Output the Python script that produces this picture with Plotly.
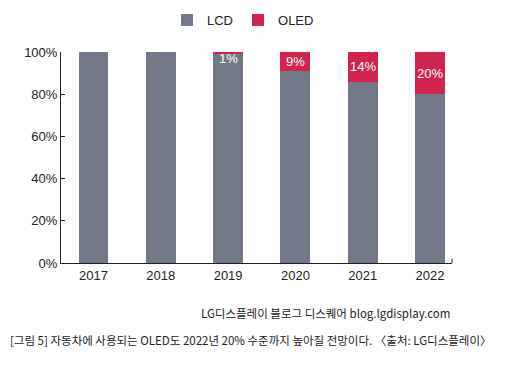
import plotly.graph_objects as go

years = ["2017", "2018", "2019", "2020", "2021", "2022"]
oled = [0, 0, 1, 9, 14, 20]
lcd = [100 - v for v in oled]
y_ticks = [0, 20, 40, 60, 80, 100]
y_tick_labels = ["0%", "20%", "40%", "60%", "80%", "100%"]
source_text = "LG디스플레이 블로그 디스퀘어 blog.lgdisplay.com"
caption_text = "[그림 5] 자동차에 사용되는 OLED도 2022년 20% 수준까지 높아질 전망이다. 〈출처: LG디스플레이〉"

GRAY = "#737889"
RED = "#D0234E"
FONT = "Liberation Sans, Arial, Noto Sans CJK KR, sans-serif"
KFONT = "Noto Sans CJK KR, Liberation Sans, sans-serif"

# page body has an 8px margin; lay out in page pixels minus that offset
OFF = 8
W, H = 515 - OFF, 373 - OFF
L, R, T, B = 61 - OFF, 452 - OFF, 52 - OFF, 263 - OFF
PW, PH = R - L, B - T


def px(x):
    return (x - OFF - L) / PW


def py(y):
    return (B - (y - OFF)) / PH


x_idx = list(range(len(years)))

fig = go.Figure()
fig.add_trace(go.Bar(x=x_idx, y=lcd, name="LCD", marker=dict(color=GRAY, line=dict(width=0)),
                     width=0.445, hoverinfo="skip"))
fig.add_trace(go.Bar(x=x_idx, y=oled, name="OLED", marker=dict(color=RED, line=dict(width=0)),
                     width=0.445, hoverinfo="skip"))

for i, v in enumerate(oled):
    if v > 0:
        fig.add_annotation(x=i, y=100 - max(v, 6.6) / 2, text=f"{v}%", showarrow=False,
                           font=dict(color="white", size=13, family=FONT),
                           xanchor="center", yanchor="middle")

fig.add_annotation(x=px(325), y=py(313), xref="paper", yref="paper", text=source_text, showarrow=False,
                   font=dict(size=11.5, color="#222", family=KFONT), xanchor="center", yanchor="middle")
fig.add_annotation(x=px(8), y=py(340), xref="paper", yref="paper", text=caption_text, showarrow=False,
                   font=dict(size=11.5, color="#222", family=KFONT), xanchor="left", yanchor="middle")

fig.update_layout(
    width=W, height=H,
    margin=dict(l=L, r=W - R, t=T, b=H - B, autoexpand=False),
    barmode="stack",
    plot_bgcolor="white", paper_bgcolor="white",
    font=dict(family=FONT, size=13, color="#222"),
    showlegend=True,
    legend=dict(orientation="h", x=px(243), xanchor="center", y=py(20), yanchor="middle",
                font=dict(size=13, family=FONT, color="#222"), itemwidth=30,
                traceorder="normal"),
    xaxis=dict(range=[-0.483, 5.327], tickmode="array", tickvals=x_idx, ticktext=years,
               showline=True, linecolor="#222", linewidth=1, ticks="", showgrid=False,
               zeroline=False, fixedrange=True, tickfont=dict(size=13)),
    yaxis=dict(range=[0, 100], tickmode="array", tickvals=y_ticks, ticktext=y_tick_labels,
               showline=True, linecolor="#222", linewidth=1, ticks="inside", ticklen=4,
               tickcolor="#222", showgrid=False, zeroline=False, fixedrange=True,
               tickfont=dict(size=13)),
)

fig.add_shape(type="line", xref="paper", yref="y", x0=1, x1=1, y0=0, y1=2,
              line=dict(color="#222", width=1))

fig.write_html("out.html")
